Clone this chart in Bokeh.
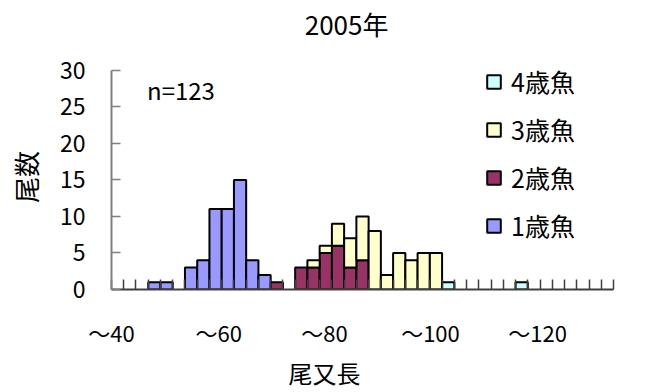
import numpy as np
from bokeh.plotting import figure
from bokeh.models import (ColumnDataSource, FixedTicker, Legend, LegendItem, Label,
                          Range1d, LinearAxis)
from bokeh.embed import file_html
from bokeh.resources import INLINE

# Upper bound of each 2 cm fork-length class: ~40, ~42, ..., ~120
length_class = list(range(40, 122, 2))

# Number of fish in each length class, by age
age1 = [0, 0, 0, 1, 1, 0, 3, 4, 11, 11, 15, 4, 2, 0, 0, 0, 0, 0, 0, 0, 0,
        0, 0, 0, 0, 0, 0, 0, 0, 0, 0, 0, 0, 0, 0, 0, 0, 0, 0, 0, 0]
age2 = [0, 0, 0, 0, 0, 0, 0, 0, 0, 0, 0, 0, 0, 1, 0, 3, 3, 5, 6, 3, 4,
        0, 0, 0, 0, 0, 0, 0, 0, 0, 0, 0, 0, 0, 0, 0, 0, 0, 0, 0, 0]
age3 = [0, 0, 0, 0, 0, 0, 0, 0, 0, 0, 0, 0, 0, 0, 0, 0, 1, 1, 3, 4, 6,
        8, 2, 5, 4, 5, 5, 0, 0, 0, 0, 0, 0, 0, 0, 0, 0, 0, 0, 0, 0]
age4 = [0, 0, 0, 0, 0, 0, 0, 0, 0, 0, 0, 0, 0, 0, 0, 0, 0, 0, 0, 0, 0,
        0, 0, 0, 0, 0, 0, 1, 0, 0, 0, 0, 0, 1, 0, 0, 0, 0, 0, 0, 0]

series_names = ["1歳魚", "2歳魚", "3歳魚", "4歳魚"]
series_colors = ["#9999FF", "#993366", "#FFFFCC", "#CCFFFF"]

x_tick_labels = ["～40", "～60", "～80", "～100", "～120"]
x_tick_pos = [39, 56.5, 73.8, 91.1, 108.6]
y_ticks = [0, 5, 10, 15, 20, 25, 30]

FONT = "Noto Sans CJK JP"
INK = "black"

# the frame reaches the top edge so the title and legend live inside it;
# the count axis itself only spans 0-30
p = figure(width=661, height=392, output_backend="svg", toolbar_location=None,
           x_range=Range1d(39, 121), y_range=Range1d(0, 39.55),
           min_border_left=111, min_border_right=48,
           min_border_top=0, min_border_bottom=102)

p.grid.visible = False
p.outline_line_color = None
p.background_fill_color = "white"
p.border_fill_color = "white"

# stacked histogram: each age class sits on top of the younger ones
x = np.array(length_class, dtype=float)
stack = np.zeros(len(length_class))
renderers = []
for name, color, counts in zip(series_names, series_colors, [age1, age2, age3, age4]):
    c = np.array(counts, dtype=float)
    keep = c > 0
    src = ColumnDataSource(dict(x=x[keep], bottom=stack[keep], top=(stack + c)[keep]))
    r = p.vbar(x="x", bottom="bottom", top="top", width=2, source=src,
               fill_color=color, line_color="black", line_width=2)
    renderers.append(r)
    stack = stack + c

# length axis: a small tick at every class boundary, labels every ten classes
xa = p.xaxis[0]
xa.ticker = FixedTicker(ticks=x_tick_pos, minor_ticks=list(range(39, 122, 2)))
xa.major_label_overrides = dict(zip(x_tick_pos, x_tick_labels))
xa.major_tick_line_color = None
xa.minor_tick_in = 10
xa.minor_tick_out = 0
xa.minor_tick_line_color = "#404040"
xa.minor_tick_line_width = 1.5
xa.axis_line_color = "#404040"
xa.axis_line_width = 2
xa.major_label_text_font = FONT
xa.major_label_text_font_size = "22px"
xa.major_label_text_color = INK
xa.major_label_standoff = 20

# axis name under the length labels
x_name_pos = 73.8
x_name_axis = LinearAxis(ticker=FixedTicker(ticks=[x_name_pos]),
                         major_label_overrides={x_name_pos: "尾又長"},
                         axis_line_color=None, major_tick_line_color=None,
                         minor_tick_line_color=None, major_tick_in=0, major_tick_out=0,
                         major_label_text_font=FONT, major_label_text_font_size="24px",
                         major_label_text_color=INK, major_label_standoff=4)
p.add_layout(x_name_axis, "below")

# count axis
ya = p.yaxis[0]
ya.ticker = FixedTicker(ticks=y_ticks)
ya.bounds = (0, 30)
ya.minor_tick_line_color = None
ya.major_tick_in = 9
ya.major_tick_out = 0
ya.major_tick_line_color = "#808080"
ya.major_tick_line_width = 1.5
ya.axis_line_color = "#808080"
ya.axis_line_width = 2
ya.major_label_text_font = FONT
ya.major_label_text_font_size = "23px"
ya.major_label_text_color = INK
ya.major_label_standoff = 26

y_name_pos = 15.4
y_name_axis = LinearAxis(ticker=FixedTicker(ticks=[y_name_pos]),
                         major_label_overrides={y_name_pos: "尾数"},
                         major_label_orientation="vertical",
                         axis_line_color=None, major_tick_line_color=None,
                         minor_tick_line_color=None, major_tick_in=0, major_tick_out=0,
                         major_label_text_font=FONT, major_label_text_font_size="26px",
                         major_label_text_color=INK, major_label_standoff=12)
p.add_layout(y_name_axis, "left")

# chart title
p.add_layout(Label(x=77.4, y=36.35, text="2005年", text_font=FONT, text_font_size="26px",
                   text_color=INK, text_align="center", text_baseline="middle"))

p.add_layout(Label(x=44.8, y=27.35, text="n=123", text_font=FONT, text_color=INK,
                   text_font_size="24px", text_baseline="middle", text_align="left"))

legend = Legend(items=[LegendItem(label=n, renderers=[r])
                       for n, r in reversed(list(zip(series_names, renderers)))],
                location=(374, 46), orientation="vertical",
                label_text_font=FONT, label_text_font_size="25px", label_text_color=INK,
                glyph_width=17, glyph_height=17, label_height=26,
                label_standoff=9, spacing=12, padding=0, margin=0,
                border_line_color=None, background_fill_alpha=0)
p.add_layout(legend)

open("out.html", "w").write(file_html(p, INLINE))
